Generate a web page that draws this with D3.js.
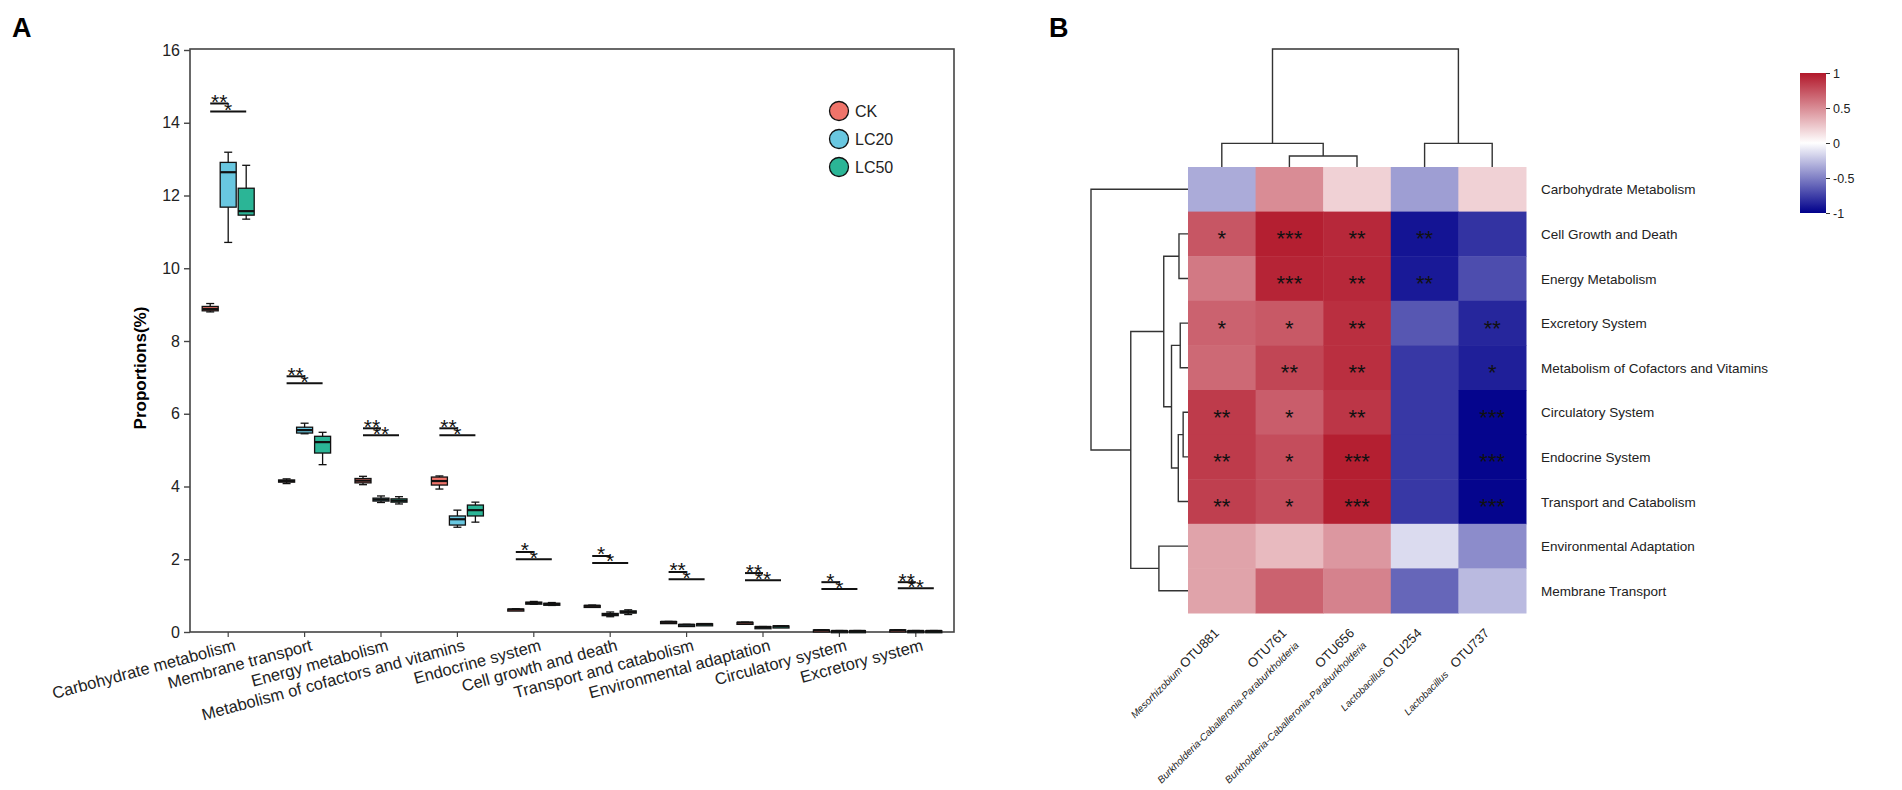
<!DOCTYPE html>
<html>
<head>
<meta charset="utf-8">
<script src="https://cdn.jsdelivr.net/npm/d3@7"></script>
<style>
  body { margin: 0; background: #fff; }
  svg { display: block; font-family: "Liberation Sans", Arial, sans-serif; }
</style>
</head>
<body>
<svg id="fig" width="1902" height="790"></svg>
<script>
// ---------- Panel A data ----------
const categories = [
  'Carbohydrate metabolism', 'Membrane transport', 'Energy metabolism',
  'Metabolism of cofactors and vitamins', 'Endocrine system', 'Cell growth and death',
  'Transport and catabolism', 'Environmental adaptation', 'Circulatory system', 'Excretory system'
];
const groups = ['CK', 'LC20', 'LC50'];
const groupColors = ['#F0746A', '#69C7E0', '#2BB596'];
const yTicks = [0, 2, 4, 6, 8, 10, 12, 14, 16];

// [min, q1, median, q3, max]
const ckStats = [
  [8.80, 8.83, 8.88, 8.95, 9.03],
  [4.08, 4.12, 4.15, 4.18, 4.21],
  [4.05, 4.10, 4.16, 4.22, 4.28],
  [3.93, 4.04, 4.15, 4.26, 4.29],
  [0.60, 0.61, 0.62, 0.63, 0.64],
  [0.70, 0.71, 0.72, 0.73, 0.74],
  [0.27, 0.275, 0.28, 0.285, 0.29],
  [0.25, 0.255, 0.26, 0.265, 0.27],
  [0.04, 0.045, 0.05, 0.055, 0.06],
  [0.04, 0.045, 0.05, 0.055, 0.06]
];
const lc20Stats = [
  [10.71, 11.68, 12.64, 12.91, 13.19],
  [5.45, 5.47, 5.55, 5.63, 5.74],
  [3.56, 3.60, 3.64, 3.68, 3.74],
  [2.88, 2.94, 3.10, 3.19, 3.35],
  [0.76, 0.78, 0.80, 0.82, 0.84],
  [0.42, 0.45, 0.48, 0.51, 0.55],
  [0.19, 0.195, 0.20, 0.205, 0.21],
  [0.13, 0.135, 0.14, 0.145, 0.15],
  [0.02, 0.025, 0.03, 0.035, 0.04],
  [0.02, 0.025, 0.03, 0.035, 0.04]
];
const lc50Stats = [
  [11.35, 11.46, 11.57, 12.20, 12.83],
  [4.60, 4.92, 5.22, 5.38, 5.49],
  [3.52, 3.57, 3.61, 3.66, 3.72],
  [3.02, 3.19, 3.35, 3.49, 3.57],
  [0.73, 0.75, 0.77, 0.79, 0.81],
  [0.48, 0.52, 0.55, 0.58, 0.61],
  [0.21, 0.215, 0.22, 0.225, 0.23],
  [0.15, 0.155, 0.16, 0.165, 0.17],
  [0.02, 0.025, 0.03, 0.035, 0.04],
  [0.02, 0.025, 0.03, 0.035, 0.04]
];

// significance: short bar = CK vs LC20, long bar = CK vs LC50
const sigShortLabels = ['**', '**', '**', '**', '*', '*', '**', '**', '*', '**'];
const sigLongLabels  = ['*', '*', '**', '*', '*', '*', '*', '**', '*', '**'];
const sigShortY = [14.53, 7.03, 5.60, 5.60, 2.20, 2.09, 1.65, 1.62, 1.37, 1.37];
const sigLongY  = [14.31, 6.84, 5.41, 5.41, 2.00, 1.90, 1.45, 1.42, 1.18, 1.20];

// ---------- Panel B data ----------
const rowNames = [
  'Carbohydrate Metabolism', 'Cell Growth and Death', 'Energy Metabolism', 'Excretory System',
  'Metabolism of Cofactors and Vitamins', 'Circulatory System', 'Endocrine System',
  'Transport and Catabolism', 'Environmental Adaptation', 'Membrane Transport'
];
const colOtu = ['OTU881', 'OTU761', 'OTU656', 'OTU254', 'OTU737'];
const colGenus = ['Mesorhizobium', 'Burkholderia-Caballeronia-Paraburkholderia',
  'Burkholderia-Caballeronia-Paraburkholderia', 'Lactobacillus', 'Lactobacillus'];
const colTwoLine = [false, true, true, false, false];

const corrValues = [
  [-0.33, 0.50, 0.20, -0.38, 0.20],
  [0.73, 0.97, 0.93, -0.92, -0.80],
  [0.58, 0.95, 0.93, -0.90, -0.70],
  [0.68, 0.72, 0.90, -0.66, -0.85],
  [0.65, 0.80, 0.90, -0.78, -0.88],
  [0.85, 0.70, 0.87, -0.78, -0.98],
  [0.85, 0.77, 0.97, -0.78, -0.98],
  [0.83, 0.77, 0.97, -0.78, -0.98],
  [0.40, 0.30, 0.45, -0.14, -0.45],
  [0.40, 0.68, 0.54, -0.60, -0.27]
];
const starLabels = [
  ['', '', '', '', ''],
  ['*', '***', '**', '**', ''],
  ['', '***', '**', '**', ''],
  ['*', '*', '**', '', '**'],
  ['', '**', '**', '', '*'],
  ['**', '*', '**', '', '***'],
  ['**', '*', '***', '', '***'],
  ['**', '*', '***', '', '***'],
  ['', '', '', '', ''],
  ['', '', '', '', '']
];
// hclust style merges: negative = leaf (1-based), positive = earlier merge
const rowMerges = [
  [-6, -7, 0.05], [-8, 1, 0.10], [-4, -5, 0.08], [-2, -3, 0.093],
  [3, 2, 0.17], [4, 5, 0.25], [-9, -10, 0.30], [6, 7, 0.59], [-1, 8, 1.0]
];
const colMerges = [[-2, -3, 0.093], [-1, 1, 0.2], [-4, -5, 0.2], [2, 3, 1.0]];
const legendTicks = [-1, -0.5, 0, 0.5, 1];

const FONT = '"Liberation Sans", Arial, sans-serif';
const svg = d3.select('#fig');

// ================= Panel A =================
const A = { left: 190, right: 954, top: 49, bottom: 632 };
const x = d3.scaleBand().domain(categories).range([A.left, A.right]);
const y = d3.scaleLinear().domain([0, 16]).range([A.bottom, 50]);
const offset = d3.scalePoint().domain(groups).range([-18, 18]);
const boxW = 16;
const gA = svg.append('g');

svg.append('text').attr('x', 12).attr('y', 37).attr('font-size', 27).attr('font-weight', 'bold').text('A');

gA.append('rect').attr('x', A.left).attr('y', A.top)
  .attr('width', A.right - A.left).attr('height', A.bottom - A.top)
  .attr('fill', 'none').attr('stroke', '#444').attr('stroke-width', 1.6);

const yAxis = gA.append('g').attr('transform', `translate(${A.left},0)`)
  .call(d3.axisLeft(y).tickValues(yTicks).tickSize(6).tickPadding(4));
yAxis.select('.domain').remove();
yAxis.attr('font-family', FONT).attr('font-size', 16);
yAxis.selectAll('line').attr('stroke', '#444').attr('stroke-width', 1.4);
yAxis.selectAll('text').attr('fill', '#222');

const xAxis = gA.append('g').attr('transform', `translate(0,${A.bottom})`)
  .call(d3.axisBottom(x).tickSize(5).tickPadding(3));
xAxis.select('.domain').remove();
xAxis.attr('font-family', FONT).attr('font-size', 16.5);
xAxis.selectAll('line').attr('stroke', '#444').attr('stroke-width', 1.2);
xAxis.selectAll('text').attr('fill', '#222').attr('text-anchor', 'end')
  .attr('transform', 'rotate(-15)').attr('dx', '0.2em');

gA.append('text').attr('transform', `translate(146,368) rotate(-90)`)
  .attr('text-anchor', 'middle').attr('font-size', 17).attr('font-weight', 'bold').text('Proportions(%)');

const seriesStats = [ckStats, lc20Stats, lc50Stats];
const boxes = [];
categories.forEach((c, ci) => groups.forEach((g, gi) => {
  const s = seriesStats[gi][ci];
  boxes.push({ cx: x(c) + x.bandwidth() / 2 + offset(g), color: groupColors[gi],
    min: s[0], q1: s[1], med: s[2], q3: s[3], max: s[4] });
}));

const bg = gA.selectAll('g.box').data(boxes).join('g').attr('class', 'box');
bg.append('line').attr('x1', d => d.cx).attr('x2', d => d.cx)
  .attr('y1', d => y(d.max)).attr('y2', d => y(d.min)).attr('stroke', '#111').attr('stroke-width', 1.3);
bg.append('line').attr('x1', d => d.cx - 4).attr('x2', d => d.cx + 4)
  .attr('y1', d => y(d.max)).attr('y2', d => y(d.max)).attr('stroke', '#111').attr('stroke-width', 1.3);
bg.append('line').attr('x1', d => d.cx - 4).attr('x2', d => d.cx + 4)
  .attr('y1', d => y(d.min)).attr('y2', d => y(d.min)).attr('stroke', '#111').attr('stroke-width', 1.3);
bg.append('rect').attr('x', d => d.cx - boxW / 2).attr('width', boxW)
  .attr('y', d => y(d.q3)).attr('height', d => Math.max(2, y(d.q1) - y(d.q3)))
  .attr('fill', d => d.color).attr('stroke', '#111').attr('stroke-width', 1.3);
bg.append('line').attr('x1', d => d.cx - boxW / 2).attr('x2', d => d.cx + boxW / 2)
  .attr('y1', d => y(d.med)).attr('y2', d => y(d.med)).attr('stroke', '#111').attr('stroke-width', 2.2);

// significance bars
const starSize = 21;
categories.forEach((c, i) => {
  const cx = x(c) + x.bandwidth() / 2;
  const x1 = cx + offset('CK'), x2 = cx + offset('LC20'), x3 = cx + offset('LC50');
  const bars = [
    { xa: x1, xb: x2, yv: sigShortY[i], lab: sigShortLabels[i] },
    { xa: x1, xb: x3, yv: sigLongY[i], lab: sigLongLabels[i] }
  ];
  bars.forEach(b => {
    gA.append('line').attr('x1', b.xa).attr('x2', b.xb).attr('y1', y(b.yv)).attr('y2', y(b.yv))
      .attr('stroke', '#111').attr('stroke-width', 2);
    gA.append('text').attr('x', (b.xa + b.xb) / 2).attr('y', y(b.yv) - 6.5 + 0.57 * starSize)
      .attr('text-anchor', 'middle').attr('font-size', starSize).attr('fill', '#111').text(b.lab);
  });
});

// legend
const leg = gA.selectAll('g.leg').data(groups).join('g').attr('class', 'leg')
  .attr('transform', (d, i) => `translate(839,${111 + i * 28})`);
leg.append('circle').attr('r', 9.5).attr('fill', (d, i) => groupColors[i]).attr('stroke', '#111').attr('stroke-width', 1.3);
leg.append('text').attr('x', 16).attr('y', 6).attr('font-size', 16).attr('fill', '#222').text(d => d);

// ================= Panel B =================
svg.append('text').attr('x', 1049).attr('y', 37).attr('font-size', 27).attr('font-weight', 'bold').text('B');

const H = { left: 1188, right: 1526, top: 167, bottom: 613 };
const xc = d3.scaleBand().domain(colOtu).range([H.left, H.right]);
const yr = d3.scaleBand().domain(rowNames).range([H.top, H.bottom]);
const color = d3.scaleLinear().domain([-1, 0, 1]).range(['#00008B', '#FFFFFF', '#B2182B']);
const gB = svg.append('g');

const cells = [];
rowNames.forEach((r, ri) => colOtu.forEach((c, ci) => cells.push({ r, c, v: corrValues[ri][ci], s: starLabels[ri][ci] })));

gB.selectAll('rect.cell').data(cells).join('rect').attr('class', 'cell')
  .attr('x', d => xc(d.c)).attr('y', d => yr(d.r))
  .attr('width', xc.bandwidth() + 0.5).attr('height', yr.bandwidth() + 0.5)
  .attr('fill', d => color(d.v));
const cellStar = 22;
gB.selectAll('text.star').data(cells.filter(d => d.s)).join('text').attr('class', 'star')
  .attr('x', d => xc(d.c) + xc.bandwidth() / 2).attr('y', d => yr(d.r) + yr.bandwidth() / 2 + 0.57 * cellStar)
  .attr('text-anchor', 'middle').attr('font-size', cellStar).attr('fill', '#111').text(d => d.s);

// row labels
gB.selectAll('text.rowlab').data(rowNames).join('text').attr('class', 'rowlab')
  .attr('x', H.right + 15).attr('y', d => yr(d) + yr.bandwidth() / 2 + 5)
  .attr('font-size', 13.5).attr('fill', '#222').text(d => d);

// column labels
colOtu.forEach((c, i) => {
  const cx = xc(c) + xc.bandwidth() / 2;
  const t = gB.append('text').attr('transform', `translate(${cx - 2},634) rotate(-45)`)
    .attr('text-anchor', 'end').attr('fill', '#222');
  if (colTwoLine[i]) {
    t.append('tspan').attr('x', 0).attr('font-size', 13).text(c);
    t.append('tspan').attr('x', 0).attr('dy', 17).attr('font-size', 10).attr('font-style', 'italic').text(colGenus[i]);
  } else {
    t.append('tspan').attr('font-size', 10).attr('font-style', 'italic').text(colGenus[i]);
    t.append('tspan').attr('font-size', 13).attr('dx', i === 4 ? 9 : 3).text(c);
  }
});

// dendrograms
function drawTree(merges, leafPos, hScale, vertical) {
  const nodes = [];
  const info = id => id < 0 ? { p: leafPos(-id - 1), h: 0 } : nodes[id - 1];
  const pt = (h, p) => vertical ? [p, hScale(h)] : [hScale(h), p];
  merges.forEach(([a, b, h]) => {
    const na = info(a), nb = info(b);
    gB.append('path').attr('d', d3.line()([pt(na.h, na.p), pt(h, na.p), pt(h, nb.p), pt(nb.h, nb.p)]))
      .attr('fill', 'none').attr('stroke', '#333').attr('stroke-width', 1.4);
    nodes.push({ p: (na.p + nb.p) / 2, h });
  });
}
drawTree(rowMerges, i => yr(rowNames[i]) + yr.bandwidth() / 2,
  d3.scaleLinear().domain([0, 1]).range([H.left, 1091]), false);
drawTree(colMerges, i => xc(colOtu[i]) + xc.bandwidth() / 2,
  d3.scaleLinear().domain([0, 1]).range([H.top, 49]), true);

// colour legend
const cb = { x: 1800, w: 26, top: 73, bottom: 213 };
const cScale = d3.scaleLinear().domain([-1, 1]).range([cb.bottom, cb.top]);
const grad = svg.append('defs').append('linearGradient').attr('id', 'cbar')
  .attr('x1', 0).attr('y1', 1).attr('x2', 0).attr('y2', 0);
legendTicks.forEach(v => grad.append('stop').attr('offset', (v + 1) / 2).attr('stop-color', color(v)));
gB.append('rect').attr('x', cb.x).attr('y', cb.top).attr('width', cb.w).attr('height', cb.bottom - cb.top)
  .attr('fill', 'url(#cbar)');
const cAxis = gB.append('g').attr('transform', `translate(${cb.x + cb.w},0)`)
  .call(d3.axisRight(cScale).tickValues(legendTicks).tickSize(4).tickPadding(3).tickFormat(d => String(d)));
cAxis.select('.domain').remove();
cAxis.attr('font-family', FONT).attr('font-size', 12.5);
cAxis.selectAll('line').attr('stroke', '#333');
cAxis.selectAll('text').attr('fill', '#222');
</script>
</body>
</html>
